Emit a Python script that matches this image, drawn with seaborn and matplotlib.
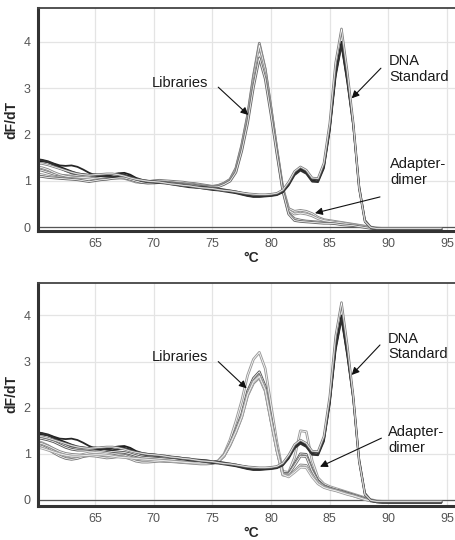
import numpy as np
import pandas as pd
import seaborn as sns
import matplotlib.pyplot as plt
import matplotlib.patheffects as pe

# temperature grid, 0.5 degC steps
temps = np.arange(60.0, 94.75, 0.5)

# DNA standard curves (same in both panels)
std_a = [1.43, 1.42, 1.40, 1.36, 1.30, 1.25, 1.20, 1.16, 1.14, 1.12,
         1.11, 1.10, 1.12, 1.14, 1.16, 1.17, 1.13, 1.06, 1.02, 1.00,
         0.99, 0.97, 0.96, 0.94, 0.93, 0.91, 0.90, 0.88, 0.87, 0.86,
         0.84, 0.83, 0.81, 0.79, 0.77, 0.74, 0.72, 0.70, 0.69, 0.68,
         0.69, 0.71, 0.78, 0.95, 1.18, 1.27, 1.20, 1.04, 1.03, 1.33,
         2.15, 3.30, 3.95, 3.15, 2.20, 0.85, 0.12, -0.02, -0.04, -0.04,
         -0.04, -0.04, -0.04, -0.04, -0.04, -0.04, -0.04, -0.04, -0.04, -0.04]
std_b = [1.47, 1.45, 1.42, 1.37, 1.33, 1.32, 1.33, 1.30, 1.24, 1.17,
         1.12, 1.10, 1.11, 1.13, 1.15, 1.13, 1.08, 1.03, 1.00, 0.98,
         0.97, 0.96, 0.95, 0.93, 0.91, 0.89, 0.88, 0.86, 0.84, 0.83,
         0.82, 0.80, 0.79, 0.77, 0.74, 0.71, 0.68, 0.66, 0.66, 0.67,
         0.68, 0.70, 0.76, 0.92, 1.15, 1.24, 1.17, 1.00, 0.99, 1.30,
         2.12, 3.32, 4.00, 3.20, 2.25, 0.90, 0.15, 0.00, -0.03, -0.04,
         -0.05, -0.05, -0.05, -0.05, -0.05, -0.05, -0.05, -0.05, -0.05, -0.05]
std_c = [1.38, 1.37, 1.34, 1.30, 1.26, 1.22, 1.18, 1.15, 1.13, 1.12,
         1.13, 1.14, 1.15, 1.15, 1.13, 1.10, 1.06, 1.03, 1.01, 0.99,
         0.98, 0.97, 0.95, 0.93, 0.92, 0.90, 0.89, 0.87, 0.85, 0.84,
         0.83, 0.81, 0.79, 0.78, 0.76, 0.74, 0.72, 0.71, 0.70, 0.70,
         0.71, 0.73, 0.80, 0.97, 1.20, 1.30, 1.23, 1.06, 1.05, 1.38,
         2.25, 3.55, 4.28, 3.35, 2.25, 0.85, 0.12, -0.01, -0.03, -0.03,
         -0.03, -0.03, -0.03, -0.03, -0.03, -0.03, -0.03, -0.03, -0.03, -0.03]
std_d = [1.45, 1.44, 1.40, 1.34, 1.27, 1.21, 1.16, 1.14, 1.13, 1.13,
         1.14, 1.12, 1.09, 1.08, 1.10, 1.12, 1.10, 1.04, 0.99, 0.97,
         0.96, 0.95, 0.94, 0.92, 0.90, 0.88, 0.86, 0.85, 0.84, 0.82,
         0.80, 0.79, 0.77, 0.75, 0.73, 0.70, 0.67, 0.65, 0.65, 0.66,
         0.67, 0.69, 0.75, 0.90, 1.12, 1.22, 1.15, 0.98, 0.97, 1.27,
         2.08, 3.25, 3.92, 3.12, 2.18, 0.84, 0.11, -0.02, -0.05, -0.06,
         -0.06, -0.06, -0.06, -0.06, -0.06, -0.06, -0.06, -0.06, -0.06, -0.06]

# library curves, upper panel
lib_top_1 = [1.25, 1.22, 1.18, 1.14, 1.12, 1.11, 1.10, 1.11, 1.12, 1.11,
             1.09, 1.07, 1.06, 1.07, 1.09, 1.08, 1.04, 0.99, 0.97, 0.98,
             1.00, 1.01, 1.00, 0.99, 0.98, 0.97, 0.95, 0.94, 0.92, 0.90,
             0.88, 0.90, 0.95, 1.03, 1.27, 1.77, 2.42, 3.27, 3.97, 3.42,
             2.57, 1.66, 0.80, 0.30, 0.18, 0.15, 0.13, 0.12, 0.11, 0.10,
             0.09, 0.08, 0.06, 0.05, 0.04, 0.02, 0.00, -0.02, -0.03, -0.04,
             -0.04, -0.04, -0.04, -0.04, -0.04, -0.04, -0.04, -0.04, -0.04, -0.04]
lib_top_2 = [1.30, 1.28, 1.24, 1.18, 1.13, 1.10, 1.08, 1.07, 1.08, 1.10,
             1.12, 1.11, 1.08, 1.06, 1.06, 1.07, 1.05, 1.00, 0.96, 0.95,
             0.96, 0.97, 0.97, 0.96, 0.95, 0.94, 0.93, 0.92, 0.90, 0.89,
             0.87, 0.89, 0.94, 1.02, 1.24, 1.74, 2.38, 3.22, 3.93, 3.40,
             2.55, 1.68, 0.85, 0.40, 0.34, 0.36, 0.34, 0.29, 0.21, 0.16,
             0.14, 0.12, 0.10, 0.08, 0.06, 0.04, 0.02, 0.00, -0.02, -0.03,
             -0.03, -0.03, -0.03, -0.03, -0.03, -0.03, -0.03, -0.03, -0.03, -0.03]
lib_top_3 = [1.15, 1.13, 1.10, 1.08, 1.06, 1.05, 1.05, 1.06, 1.07, 1.06,
             1.04, 1.03, 1.04, 1.06, 1.07, 1.05, 1.01, 0.97, 0.96, 0.97,
             0.98, 0.98, 0.97, 0.95, 0.94, 0.93, 0.92, 0.90, 0.89, 0.88,
             0.86, 0.88, 0.93, 1.00, 1.20, 1.68, 2.30, 3.10, 3.75, 3.28,
             2.48, 1.62, 0.82, 0.36, 0.28, 0.30, 0.28, 0.24, 0.18, 0.14,
             0.12, 0.10, 0.09, 0.07, 0.05, 0.03, 0.01, -0.01, -0.03, -0.04,
             -0.05, -0.05, -0.05, -0.05, -0.05, -0.05, -0.05, -0.05, -0.05, -0.05]
lib_top_4 = [1.10, 1.09, 1.07, 1.06, 1.05, 1.04, 1.03, 1.02, 1.00, 0.98,
             1.00, 1.02, 1.03, 1.05, 1.06, 1.06, 1.03, 0.99, 0.96, 0.95,
             0.95, 0.96, 0.96, 0.95, 0.94, 0.92, 0.91, 0.90, 0.88, 0.87,
             0.86, 0.87, 0.92, 0.99, 1.18, 1.64, 2.24, 3.02, 3.65, 3.20,
             2.42, 1.58, 0.78, 0.28, 0.14, 0.12, 0.11, 0.10, 0.09, 0.08,
             0.08, 0.07, 0.05, 0.04, 0.03, 0.01, -0.01, -0.03, -0.05, -0.06,
             -0.06, -0.06, -0.06, -0.06, -0.06, -0.06, -0.06, -0.06, -0.06, -0.06]

# library curves, lower panel (more adapter-dimer at ~83 degC)
lib_bot_1 = [1.28, 1.24, 1.18, 1.10, 1.02, 0.96, 0.93, 0.95, 0.99, 1.02,
             1.03, 1.02, 1.00, 0.98, 0.97, 0.98, 0.97, 0.94, 0.92, 0.91,
             0.90, 0.89, 0.88, 0.88, 0.87, 0.86, 0.85, 0.84, 0.83, 0.82,
             0.81, 0.85, 1.00, 1.30, 1.70, 2.15, 2.70, 3.05, 3.20, 2.85,
             2.05, 1.25, 0.62, 0.60, 0.92, 1.50, 1.48, 0.85, 0.48, 0.35,
             0.29, 0.25, 0.21, 0.17, 0.13, 0.09, 0.05, 0.01, -0.02, -0.03,
             -0.03, -0.03, -0.03, -0.03, -0.03, -0.03, -0.03, -0.03, -0.03, -0.03]
lib_bot_2 = [1.35, 1.33, 1.30, 1.26, 1.20, 1.14, 1.10, 1.08, 1.08, 1.09,
             1.10, 1.09, 1.07, 1.05, 1.04, 1.03, 1.00, 0.96, 0.93, 0.92,
             0.91, 0.90, 0.89, 0.88, 0.87, 0.86, 0.85, 0.84, 0.83, 0.82,
             0.81, 0.84, 0.97, 1.22, 1.52, 1.86, 2.36, 2.64, 2.78, 2.47,
             1.77, 1.10, 0.58, 0.58, 0.78, 1.00, 0.99, 0.66, 0.42, 0.31,
             0.26, 0.22, 0.19, 0.15, 0.11, 0.07, 0.03, -0.01, -0.03, -0.04,
             -0.04, -0.04, -0.04, -0.04, -0.04, -0.04, -0.04, -0.04, -0.04, -0.04]
lib_bot_3 = [1.20, 1.16, 1.10, 1.02, 0.95, 0.90, 0.88, 0.90, 0.94, 0.96,
             0.97, 0.96, 0.95, 0.96, 0.98, 0.97, 0.93, 0.88, 0.86, 0.86,
             0.86, 0.85, 0.84, 0.84, 0.83, 0.82, 0.82, 0.81, 0.80, 0.80,
             0.80, 0.83, 0.96, 1.20, 1.49, 1.82, 2.30, 2.58, 2.70, 2.40,
             1.72, 1.08, 0.56, 0.56, 0.75, 0.95, 0.94, 0.63, 0.40, 0.30,
             0.25, 0.21, 0.18, 0.14, 0.10, 0.06, 0.02, -0.02, -0.04, -0.05,
             -0.05, -0.05, -0.05, -0.05, -0.05, -0.05, -0.05, -0.05, -0.05, -0.05]
lib_bot_4 = [1.25, 1.22, 1.17, 1.11, 1.05, 1.01, 0.99, 0.98, 0.97, 0.96,
             0.95, 0.93, 0.91, 0.92, 0.94, 0.93, 0.89, 0.84, 0.82, 0.82,
             0.83, 0.84, 0.84, 0.83, 0.82, 0.81, 0.80, 0.79, 0.78, 0.78,
             0.79, 0.83, 0.95, 1.18, 1.46, 1.79, 2.26, 2.53, 2.65, 2.36,
             1.70, 1.06, 0.54, 0.52, 0.63, 0.76, 0.75, 0.54, 0.36, 0.28,
             0.24, 0.21, 0.17, 0.13, 0.09, 0.05, 0.01, -0.02, -0.04, -0.05,
             -0.05, -0.05, -0.05, -0.05, -0.05, -0.05, -0.05, -0.05, -0.05, -0.05]
lib_bot_5 = [1.15, 1.12, 1.08, 1.04, 1.00, 0.97, 0.95, 0.95, 0.96, 0.97,
             0.98, 0.98, 0.97, 0.95, 0.93, 0.92, 0.91, 0.90, 0.89, 0.88,
             0.87, 0.86, 0.85, 0.84, 0.83, 0.82, 0.81, 0.80, 0.80, 0.80,
             0.81, 0.84, 0.97, 1.20, 1.48, 1.80, 2.28, 2.56, 2.68, 2.39,
             1.72, 1.07, 0.55, 0.50, 0.60, 0.71, 0.70, 0.50, 0.35, 0.27,
             0.23, 0.20, 0.16, 0.12, 0.09, 0.05, 0.01, -0.02, -0.03, -0.04,
             -0.04, -0.04, -0.04, -0.04, -0.04, -0.04, -0.04, -0.04, -0.04, -0.04]

x_ticks = [65, 70, 75, 80, 85, 90, 95]
y_ticks = [0, 1, 2, 3, 4]

std_curves = [std_a, std_b, std_d, std_c]
std_colors = ['#1c1c1c', '#262626', '#303030', '#7d7d7d']
lib_top = [lib_top_1, lib_top_2, lib_top_3, lib_top_4]
lib_top_colors = ['#7a7a7a', '#8a8a8a', '#959595', '#6f6f6f']
lib_bot = [lib_bot_1, lib_bot_2, lib_bot_3, lib_bot_4, lib_bot_5]
lib_bot_colors = ['#9a9a9a', '#5a5a5a', '#777777', '#888888', '#a5a5a5']

sns.set_style('white')
plt.rcParams['font.family'] = ['Liberation Sans', 'DejaVu Sans']

fig = plt.figure(figsize=(4.55, 5.40), dpi=100)
ax_top = fig.add_axes([0.0829, 0.5722, 0.939, 0.413])
ax_bot = fig.add_axes([0.0829, 0.0630, 0.939, 0.4135])


def hollow_line(ax, y, color, lw=1.9, core=0.55):
    sns.lineplot(x=temps, y=y, ax=ax, color='white', lw=core, sort=False,
                 path_effects=[pe.Stroke(linewidth=lw, foreground=color), pe.Normal()])


def draw_panel(ax, libs, lib_colors, ylim, notes):
    for y, c in zip(libs, lib_colors):
        hollow_line(ax, y, c)
    for y, c in zip(std_curves, std_colors):
        if c == '#7d7d7d':
            hollow_line(ax, y, c, lw=1.7, core=0.5)
        else:
            sns.lineplot(x=temps, y=y, ax=ax, color=c, lw=1.3, sort=False)

    ax.axhline(0, color='#555555', lw=0.9, zorder=1)
    ax.set_xlim(60.12, 96.52)
    ax.set_ylim(*ylim)
    ax.set_xticks(x_ticks)
    ax.set_yticks(y_ticks)
    ax.grid(True, color='#e4e4e4', lw=0.9)
    ax.set_axisbelow(True)
    ax.tick_params(axis='both', labelsize=9, labelcolor='#555555', color='#888888',
                   length=3, width=0.8, pad=2)
    for side in ['left', 'bottom']:
        ax.spines[side].set_linewidth(2.2)
        ax.spines[side].set_color('#333333')
    ax.spines['top'].set_linewidth(1.3)
    ax.spines['top'].set_color('#444444')
    ax.spines['right'].set_visible(False)
    ax.set_xlabel('°C', fontsize=10, fontweight='bold', labelpad=1)
    ax.set_ylabel('dF/dT', fontsize=10, fontweight='bold', labelpad=4)

    for label, txt_xy, ha, tail, head in notes:
        ax.text(txt_xy[0], txt_xy[1], label, ha=ha, va='center', fontsize=10.5,
                color='#1a1a1a', linespacing=1.15)
        ax.annotate('', xy=head, xytext=tail,
                    arrowprops=dict(arrowstyle='-|>', color='#111111', lw=0.8,
                                    mutation_scale=11, shrinkA=0, shrinkB=0))


notes_top = [
    ('Libraries', (72.24, 3.11), 'center', (75.5, 3.02), (78.06, 2.42)),
    ('DNA\nStandard', (90.04, 3.41), 'left', (89.36, 3.43), (86.87, 2.78)),
    ('Adapter-\ndimer', (90.13, 1.19), 'left', (89.28, 0.65), (83.74, 0.30)),
]
notes_bot = [
    ('Libraries', (72.24, 3.10), 'center', (75.5, 3.0), (77.92, 2.42)),
    ('DNA\nStandard', (89.98, 3.33), 'left', (89.28, 3.36), (86.87, 2.71)),
    ('Adapter-\ndimer', (90.0, 1.30), 'left', (89.4, 1.34), (84.17, 0.72)),
]

draw_panel(ax_top, lib_top, lib_top_colors, (-0.086, 4.73), notes_top)
draw_panel(ax_bot, lib_bot, lib_bot_colors, (-0.13, 4.71), notes_bot)

fig.savefig('out.png', dpi=100)
